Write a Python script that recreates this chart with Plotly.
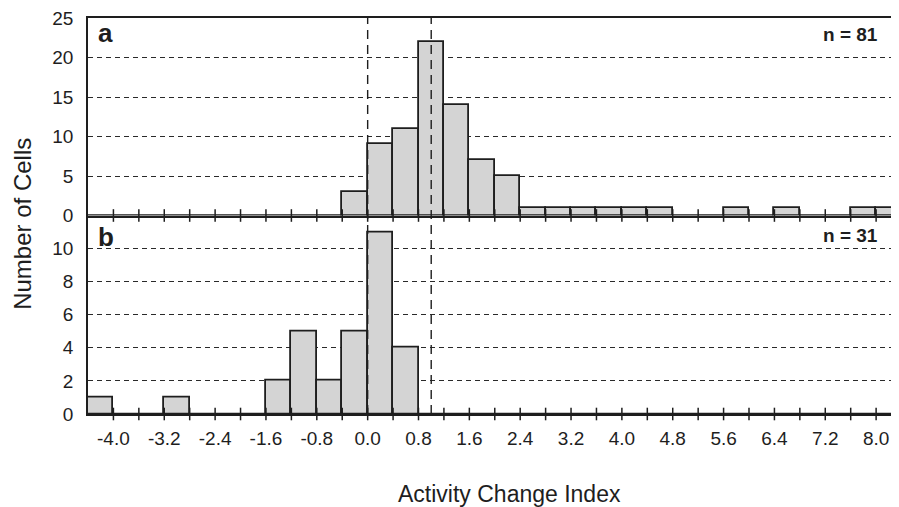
import plotly.graph_objects as go
from plotly.subplots import make_subplots

# ---- data ----
bin_left = [-4.4, -4.0, -3.6, -3.2, -2.8, -2.4, -2.0, -1.6, -1.2, -0.8, -0.4,
            0.0, 0.4, 0.8, 1.2, 1.6, 2.0, 2.4, 2.8, 3.2, 3.6, 4.0, 4.4, 4.8,
            5.2, 5.6, 6.0, 6.4, 6.8, 7.2, 7.6, 8.0]
bin_width = 0.4
counts_a = [0, 0, 0, 0, 0, 0, 0, 0, 0, 0, 3,
            9, 11, 22, 14, 7, 5, 1, 1, 1, 1, 1, 1, 0,
            0, 1, 0, 1, 0, 0, 1, 1]
counts_b = [1, 0, 0, 1, 0, 0, 0, 2, 5, 2, 5,
            11, 4, 0, 0, 0, 0, 0, 0, 0, 0, 0, 0, 0,
            0, 0, 0, 0, 0, 0, 0, 0]
x_tick_vals = [-4.0, -3.2, -2.4, -1.6, -0.8, 0.0, 0.8, 1.6, 2.4, 3.2, 4.0,
               4.8, 5.6, 6.4, 7.2, 8.0]
x_tick_text = ["-4.0", "-3.2", "-2.4", "-1.6", "-0.8", "0.0", "0.8", "1.6",
               "2.4", "3.2", "4.0", "4.8", "5.6", "6.4", "7.2", "8.0"]
y_ticks_a = [0, 5, 10, 15, 20, 25]
y_ticks_b = [0, 2, 4, 6, 8, 10]
reference_lines = [0.0, 1.0]
n_a = 81
n_b = 31

FONT = "Liberation Sans, Arial, Helvetica, sans-serif"
INK = "#1e1e1e"

centers = [b + bin_width / 2 for b in bin_left]
edges = [b for b in bin_left[1:]]

fig = make_subplots(rows=2, cols=1, shared_xaxes=True, vertical_spacing=0,
                    row_heights=[199, 200])

for row, counts in ((1, counts_a), (2, counts_b)):
    fig.add_trace(go.Bar(x=centers, y=counts, width=bin_width,
                         marker=dict(color="#d4d4d4",
                                     line=dict(color=INK, width=1.8)),
                         showlegend=False, hoverinfo="skip"), row=row, col=1)
    # cross-shaped tick marks on the baseline
    fig.add_trace(go.Scatter(x=edges, y=[0] * len(edges), mode="markers",
                             marker=dict(symbol="line-ns", size=9,
                                         line=dict(color=INK, width=1.5)),
                             cliponaxis=False, showlegend=False,
                             hoverinfo="skip"), row=row, col=1)

x_range = [-4.4, 8.36]
axis_common = dict(showline=True, linecolor=INK, linewidth=1.8,
                   tickfont=dict(family=FONT, size=19, color=INK))
fig.update_xaxes(range=x_range, tickvals=x_tick_vals, ticktext=x_tick_text,
                 showgrid=False, zeroline=False, ticks="outside",
                 ticklen=6, tickcolor="rgba(0,0,0,0)", **axis_common)
fig.update_xaxes(showticklabels=False, mirror=True, row=1, col=1)

grid = dict(showgrid=True, gridcolor="#2a2a2a", gridwidth=1.4,
            griddash="5px,4px", zeroline=False, ticks="outside", ticklen=9,
            tickcolor="rgba(0,0,0,0)", ticklabeloverflow="allow")
fig.update_yaxes(range=[0, 25], tickvals=y_ticks_a, row=1, col=1,
                 **grid, **axis_common)
fig.update_yaxes(range=[0, 12], tickvals=y_ticks_b, row=2, col=1,
                 **grid, **axis_common)

for v in reference_lines:
    fig.add_shape(type="line", xref="x", yref="paper", x0=v, x1=v, y0=0, y1=1,
                  line=dict(color=INK, width=1.4, dash="9px,6px"))

ann_font = dict(family=FONT, color=INK)
fig.add_annotation(text="<b>a</b>", xref="x domain", yref="y domain",
                   x=0.01, y=0.925, xanchor="left", yanchor="middle",
                   showarrow=False, font=dict(size=26, **ann_font))
fig.add_annotation(text="<b>b</b>", xref="x2 domain", yref="y2 domain",
                   x=0.01, y=0.89, xanchor="left", yanchor="middle",
                   showarrow=False, font=dict(size=26, **ann_font))
fig.add_annotation(text=f"<b>n = {n_a}</b>", xref="x domain", yref="y domain",
                   x=0.977, y=0.915, xanchor="right", yanchor="middle",
                   showarrow=False, font=dict(size=19, **ann_font))
fig.add_annotation(text=f"<b>n = {n_b}</b>", xref="x2 domain", yref="y2 domain",
                   x=0.977, y=0.90, xanchor="right", yanchor="middle",
                   showarrow=False, font=dict(size=19, **ann_font))
fig.add_annotation(text="Number of Cells", xref="paper", yref="paper",
                   x=-0.081, y=0.481, textangle=-90, showarrow=False,
                   xanchor="center", yanchor="middle",
                   font=dict(size=24, **ann_font))
fig.add_annotation(text="Activity Change Index", xref="paper", yref="paper",
                   x=0.52, y=-0.203, showarrow=False,
                   xanchor="center", yanchor="middle",
                   font=dict(size=23, **ann_font))

# The page body adds an 8 px offset; size the figure so it fills the window.
fig.update_layout(width=891, height=499, bargap=0,
                  margin=dict(l=80, r=0, t=7, b=93),
                  plot_bgcolor="white", paper_bgcolor="white")

fig.write_html("out.html")
